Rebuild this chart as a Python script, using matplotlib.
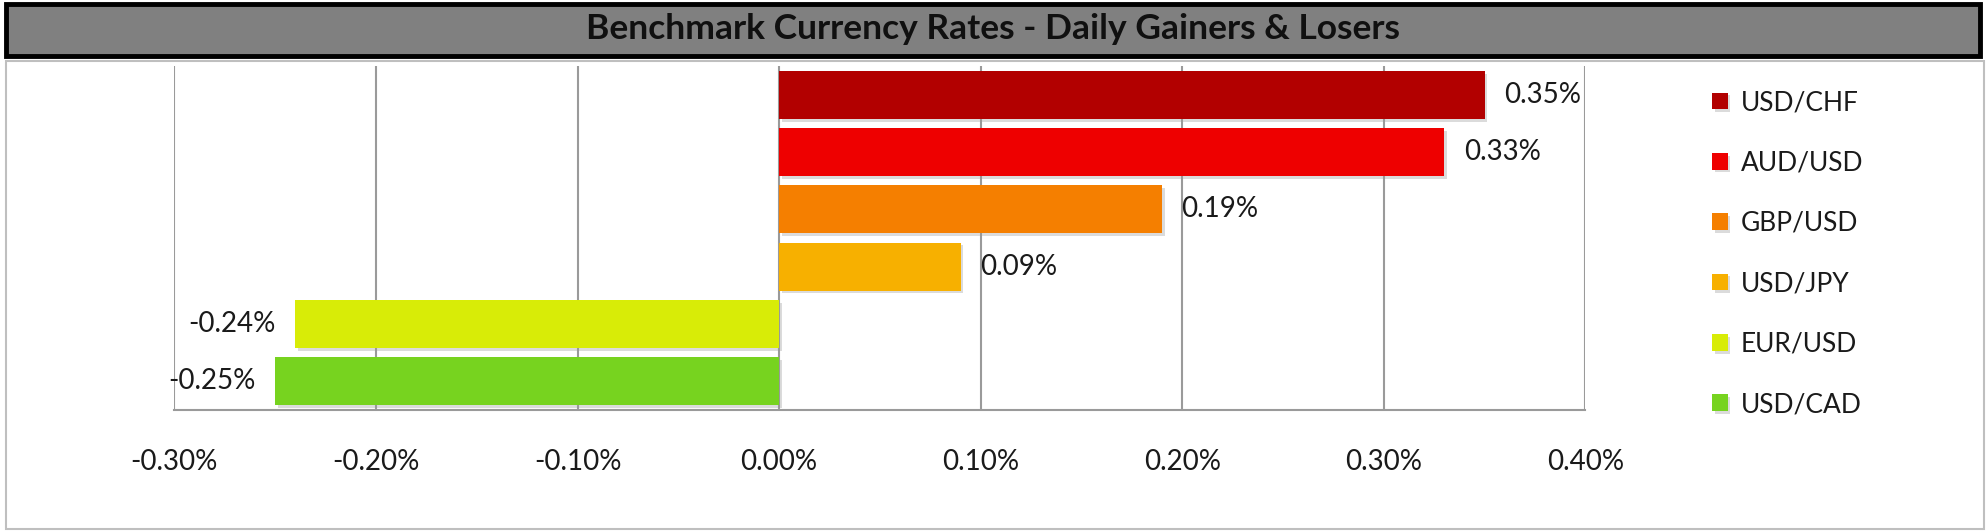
import matplotlib.pyplot as plt
import matplotlib.patheffects as pe
from matplotlib.patches import Rectangle
from matplotlib.ticker import FuncFormatter

# data
pairs = ["USD/CHF", "AUD/USD", "GBP/USD", "USD/JPY", "EUR/USD", "USD/CAD"]
changes = [0.35, 0.33, 0.19, 0.09, -0.24, -0.25]
colors = ["#B20000", "#EE0000", "#F57F00", "#F7B000", "#D8EC07", "#77D31F"]
x_ticks = [-0.30, -0.20, -0.10, 0.00, 0.10, 0.20, 0.30, 0.40]
title = "Benchmark Currency Rates - Daily Gainers & Losers"

plt.rcParams["font.family"] = ["Lato", "DejaVu Sans"]

fig = plt.figure(figsize=(19.86, 5.32), dpi=100)
fig.patch.set_facecolor("white")

# title banner
fig.patches.append(Rectangle((0.003, 0.895), 0.994, 0.098, transform=fig.transFigure,
                             facecolor="#808080", edgecolor="black", linewidth=3.5))
fig.text(0.5, 0.945, title, ha="center", va="center", fontsize=25.5, fontweight="bold",
         color="#101010")

# chart box
fig.patches.append(Rectangle((0.003, 0.005), 0.996, 0.880, transform=fig.transFigure,
                             facecolor="none", edgecolor="#BFBFBF", linewidth=1.5))

ax = fig.add_axes([0.0878, 0.2297, 0.7135 - 0.003, 0.6459])
y = list(range(len(pairs)))
bars = ax.barh(y, changes, height=0.84, color=colors, zorder=3)
for b in bars:
    b.set_path_effects([pe.SimplePatchShadow(offset=(2, -2), shadow_rgbFace="#999999", alpha=0.35),
                        pe.Normal()])

ax.set_ylim(len(pairs) - 0.5, -0.5)
ax.set_xlim(x_ticks[0], x_ticks[-1])
ax.set_xticks(x_ticks)
ax.xaxis.set_major_formatter(FuncFormatter(lambda v, p: f"{v:.2f}%"))
ax.set_yticks([])
ax.grid(axis="x", color="#9A9A9A", linewidth=1.5, zorder=0)
ax.tick_params(axis="x", length=0, pad=28, labelsize=20, labelcolor="#1A1A1A")
for s in ["top", "right", "left"]:
    ax.spines[s].set_visible(False)
ax.spines["bottom"].set_color("#9A9A9A")
ax.spines["bottom"].set_linewidth(1.5)

# value labels
for yi, v in zip(y, changes):
    if v >= 0:
        ax.annotate(f"{v:.2f}%", (v, yi), xytext=(14, 0), textcoords="offset points",
                    ha="left", va="center", fontsize=20, color="#1A1A1A", zorder=5)
    else:
        ax.annotate(f"{v:.2f}%", (v, yi), xytext=(-14, 0), textcoords="offset points",
                    ha="right", va="center", fontsize=20, color="#1A1A1A", zorder=5)

leg = fig.legend(bars, pairs, loc="upper left", bbox_to_anchor=(0.85, 0.875),
                 frameon=False, fontsize=19, handlelength=0.6, handleheight=0.6,
                 handletextpad=0.5, labelspacing=1.34)
for t in leg.get_texts():
    t.set_color("#1A1A1A")

fig.savefig("out.png", dpi=100)
